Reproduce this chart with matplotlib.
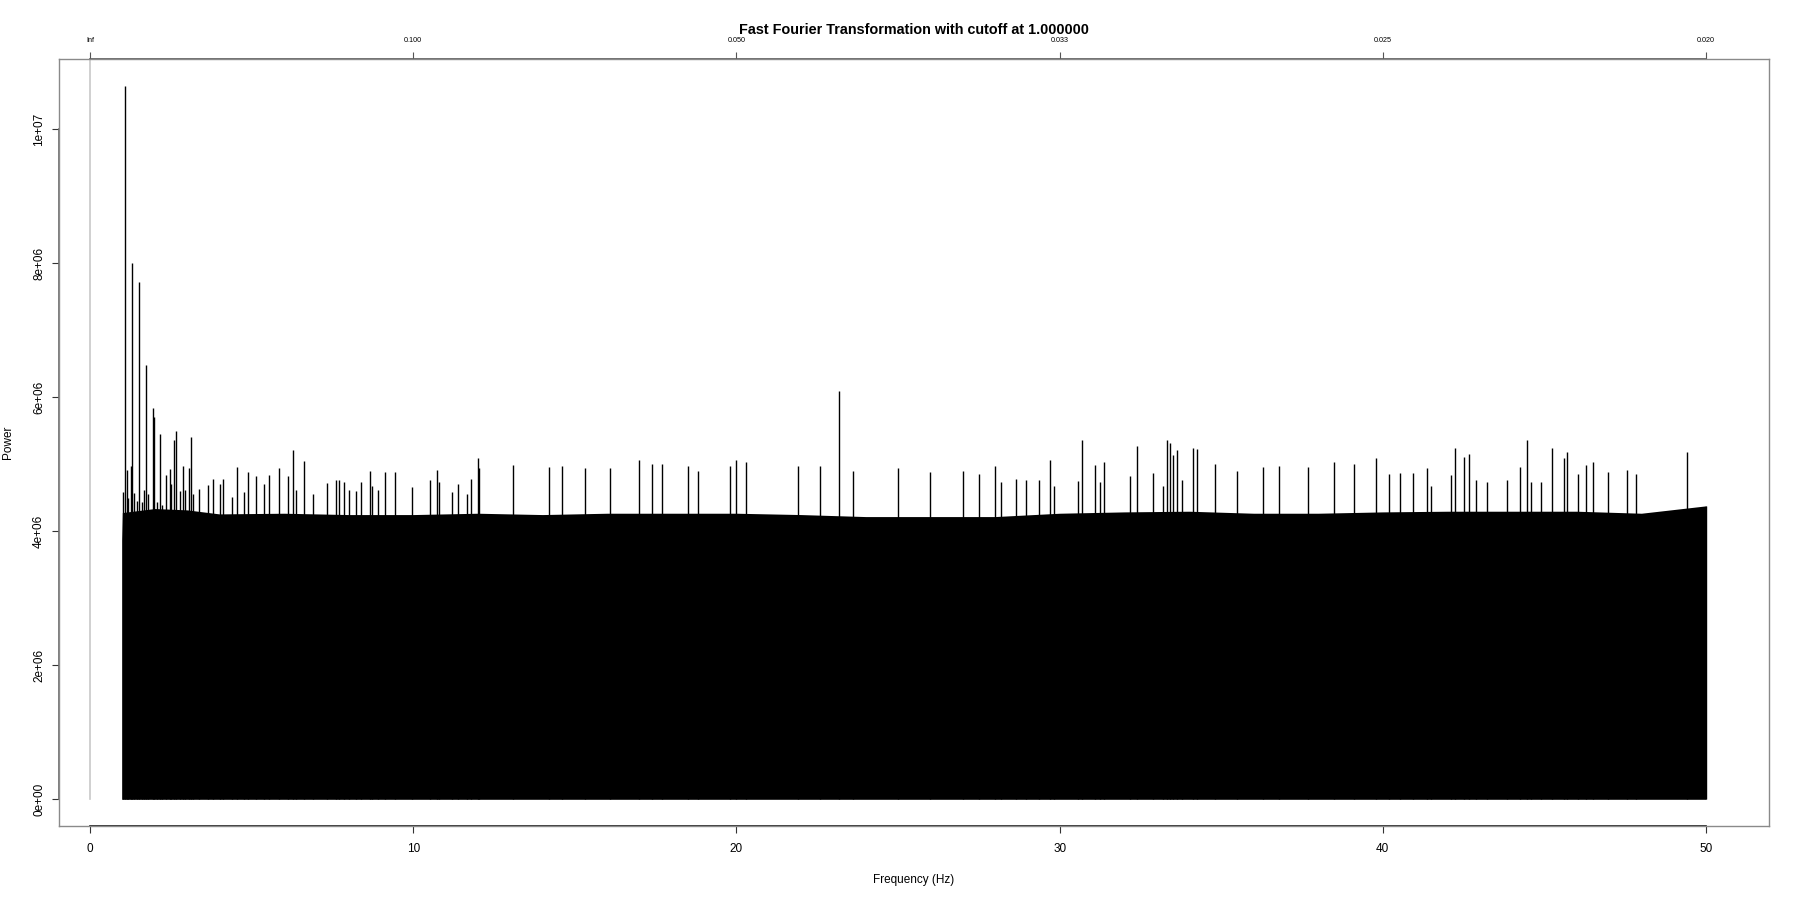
import matplotlib
matplotlib.use("Agg")
import matplotlib.pyplot as plt
import numpy as np

# ---------------- data ----------------
title = "Fast Fourier Transformation with cutoff at 1.000000"
x_ticks = [0, 10, 20, 30, 40, 50]
x_tick_labels = ["0", "10", "20", "30", "40", "50"]
top_tick_labels = ["Inf", "0.100", "0.050", "0.033", "0.025", "0.020"]
y_ticks = [0, 2e6, 4e6, 6e6, 8e6, 1e7]
y_tick_labels = ["0e+00", "2e+06", "4e+06", "6e+06", "8e+06", "1e+07"]

# solid body of the spectrum (dense lines, upper level of the black mass)
body_freq = [0.98, 1.0, 2.0, 3.0, 4.0, 6.0, 8.0, 10.0, 12.0, 14.0, 16.0, 18.0,
             20.0, 22.0, 24.0, 26.0, 28.0, 30.0, 32.0, 34.0, 36.0, 38.0, 40.0,
             42.0, 44.0, 46.0, 48.0, 50.0]
body_power = [3.87e6, 4.28e6, 4.34e6, 4.32e6, 4.26e6, 4.27e6, 4.25e6, 4.25e6,
              4.27e6, 4.25e6, 4.27e6, 4.27e6, 4.27e6, 4.25e6, 4.22e6, 4.22e6,
              4.22e6, 4.27e6, 4.29e6, 4.30e6, 4.27e6, 4.27e6, 4.29e6, 4.30e6,
              4.30e6, 4.30e6, 4.27e6, 4.38e6]

# individual line tops standing above the body
spike_freq = [1.01, 1.08, 1.13, 1.18, 1.26, 1.29, 1.36, 1.45, 1.52, 1.62, 1.68, 1.72,
              1.80, 1.94, 1.98, 2.06, 2.15, 2.24, 2.36, 2.46, 2.52, 2.59, 2.67, 2.78,
              2.89, 2.95, 3.05, 3.12, 3.20, 3.36, 3.66, 3.82, 4.02, 4.10, 4.38, 4.56,
              4.75, 4.88, 5.13, 5.39, 5.54, 5.84, 6.13, 6.27, 6.37, 6.61, 6.91, 7.34,
              7.61, 7.70, 7.87, 8.00, 8.24, 8.39, 8.65, 8.74, 8.90, 9.13, 9.44, 9.96,
              10.52, 10.74, 10.81, 11.20, 11.38, 11.66, 11.78, 12.00, 12.04,
              13.1, 14.2, 14.6, 15.3, 16.1, 17.0, 17.4, 17.7, 18.5, 18.8, 19.8, 20.0,
              20.3, 21.9, 22.6, 23.18, 23.6, 25.0, 26.0, 27.0, 27.5, 28.0,
              28.2, 28.65, 28.95, 29.36, 29.70, 29.83, 30.57, 30.69, 31.10, 31.25,
              31.37, 32.18, 32.38, 32.89, 33.20, 33.31, 33.41, 33.50, 33.62, 33.80,
              34.12, 34.24, 34.8, 35.5, 36.3, 36.8, 37.7, 38.5, 39.1, 39.8, 40.2,
              40.53, 40.94, 41.38, 41.50, 42.11, 42.22, 42.52, 42.66, 42.88, 43.23,
              43.85, 44.25, 44.46, 44.60, 44.90, 45.25, 45.62, 45.69, 46.03, 46.28,
              46.51, 46.98, 47.55, 47.84, 49.42, 50.0]
spike_power = [4.58e6, 10.64e6, 4.91e6, 4.49e6, 4.97e6, 8.00e6, 4.57e6, 4.45e6, 7.72e6,
               4.44e6, 4.62e6, 6.48e6, 4.55e6, 5.84e6, 5.70e6, 4.44e6, 5.46e6, 4.40e6,
               4.84e6, 4.93e6, 4.70e6, 5.36e6, 5.49e6, 4.60e6, 4.97e6, 4.62e6, 4.95e6,
               5.41e6, 4.55e6, 4.63e6, 4.69e6, 4.78e6, 4.71e6, 4.78e6, 4.51e6, 4.96e6,
               4.58e6, 4.89e6, 4.83e6, 4.71e6, 4.84e6, 4.94e6, 4.82e6, 5.22e6, 4.62e6,
               5.05e6, 4.55e6, 4.72e6, 4.77e6, 4.77e6, 4.74e6, 4.62e6, 4.60e6, 4.74e6,
               4.90e6, 4.68e6, 4.62e6, 4.89e6, 4.89e6, 4.66e6, 4.77e6, 4.91e6, 4.74e6,
               4.58e6, 4.70e6, 4.55e6, 4.78e6, 5.09e6, 4.94e6,
               4.99e6, 4.96e6, 4.97e6, 4.94e6, 4.94e6, 5.06e6, 5.01e6, 5.00e6, 4.98e6,
               4.90e6, 4.98e6, 5.06e6, 5.03e6, 4.98e6, 4.98e6, 6.10e6, 4.90e6, 4.94e6,
               4.88e6, 4.90e6, 4.86e6, 4.98e6,
               4.74e6, 4.78e6, 4.77e6, 4.77e6, 5.06e6, 4.67e6, 4.75e6, 5.37e6, 4.99e6,
               4.74e6, 5.04e6, 4.82e6, 5.27e6, 4.87e6, 4.67e6, 5.36e6, 5.32e6, 5.14e6,
               5.22e6, 4.77e6, 5.25e6, 5.23e6, 5.00e6, 4.90e6, 4.96e6, 4.98e6, 4.96e6,
               5.04e6, 5.00e6, 5.10e6, 4.85e6,
               4.87e6, 4.87e6, 4.94e6, 4.67e6, 4.84e6, 5.25e6, 5.11e6, 5.15e6, 4.76e6,
               4.74e6, 4.76e6, 4.96e6, 5.36e6, 4.74e6, 4.74e6, 5.25e6, 5.09e6, 5.19e6,
               4.85e6, 4.99e6, 5.04e6, 4.89e6, 4.91e6, 4.85e6, 5.19e6, 4.38e6]

# ---------------- figure ----------------
plt.rcParams['font.family'] = ['Liberation Sans', 'DejaVu Sans']
fig = plt.figure(figsize=(18, 9), dpi=100)
ax = fig.add_axes([59 / 1800, 1 - 826.3 / 900, (1769 - 59) / 1800, (826.3 - 59) / 900])
ax.set_xlim(-0.96, 51.95)
ax.set_ylim(-0.403e6, 11.05e6)

# gray reference line at frequency 0 (infinite period)
ax.axvline(0, ymin=(0 + 0.403e6) / (11.05e6 + 0.403e6), ymax=1, color='#c8c8c8', lw=1.2)

# body of the spectrum
ax.fill_between(body_freq, 0, body_power, color='black', lw=0)
# spikes
ax.vlines(spike_freq, 0, spike_power, color='black', lw=1.0)

# box
for s in ax.spines.values():
    s.set_color('#8a8a8a')
    s.set_linewidth(1.0)

# axis lines (drawn over the tick range, as in R)
ax.plot([x_ticks[0], x_ticks[-1]], [-0.403e6, -0.403e6], color='#111111', lw=1.2, clip_on=False)
ax.plot([x_ticks[0], x_ticks[-1]], [11.05e6, 11.05e6], color='#555555', lw=1.2, clip_on=False)
ax.plot([-0.96, -0.96], [y_ticks[0], y_ticks[-1]], color='#666666', lw=1.2, clip_on=False)

ax.set_xticks(x_ticks)
ax.set_xticklabels(x_tick_labels, fontsize=8.5)
ax.set_yticks(y_ticks)
ax.set_yticklabels(y_tick_labels, fontsize=8.5, rotation=90, va='center')
ax.tick_params(axis='both', length=5, width=0.8, color='#333333', pad=7)
ax.tick_params(axis='y', pad=5)

# top axis with periods
top = ax.secondary_xaxis('top')
top.set_xticks(x_ticks)
top.set_xticklabels(top_tick_labels, fontsize=5.2)
top.tick_params(length=5, width=0.8, color='#555555', pad=6)
top.spines['top'].set_visible(False)

ax.set_xlabel("Frequency (Hz)", fontsize=8.5, labelpad=14)
ax.set_ylabel("Power", fontsize=8.5, labelpad=14)
fig.text(914 / 1800, 1 - 30 / 900, title, ha='center', va='center', fontsize=10.4, fontweight='bold')

fig.savefig("out.png", dpi=100)
